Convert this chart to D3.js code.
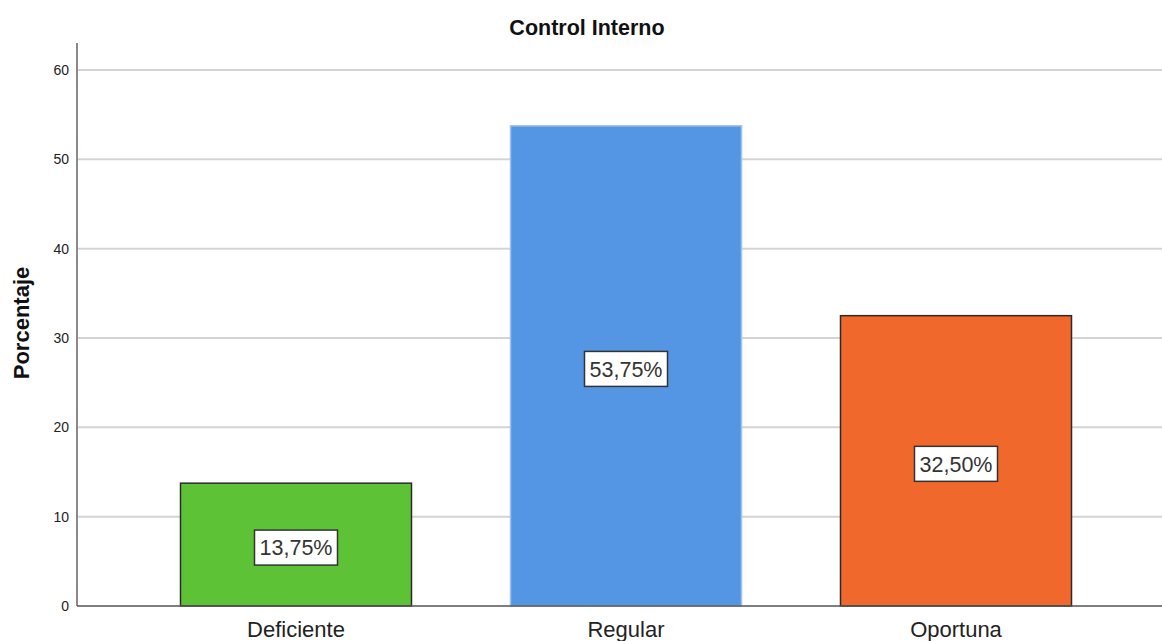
<!DOCTYPE html>
<html>
<head>
<meta charset="utf-8">
<script src="https://cdn.jsdelivr.net/npm/d3@7"></script>
<style>
  body { margin: 0; background: #fff; }
  svg { display: block; font-family: Arial, "Liberation Sans", sans-serif; }
</style>
</head>
<body>
<svg id="chart" width="1162" height="641"></svg>
<script>
const categories = ['Deficiente', 'Regular', 'Oportuna'];
const values = [13.75, 53.75, 32.50];
const barLabels = ['13,75%', '53,75%', '32,50%'];
const yTicks = [0, 10, 20, 30, 40, 50, 60];
const barColors = ['#5ec236', '#5596e4', '#f1682c'];
const barStrokes = ['#2b2b2b', '#9cc2ee', '#2b2b2b'];

const svg = d3.select('#chart');

const x = d3.scaleBand()
    .domain(categories)
    .range([131, 1121])
    .paddingInner(0.3)
    .paddingOuter(0.15);

const y = d3.scaleLinear()
    .domain([0, 60])
    .range([606, 70]);

// gridlines
svg.append('g')
    .selectAll('line')
    .data(yTicks.filter(d => d > 0))
    .enter()
    .append('line')
    .attr('x1', 78)
    .attr('x2', 1162)
    .attr('y1', d => y(d))
    .attr('y2', d => y(d))
    .attr('stroke', '#d4d4d4')
    .attr('stroke-width', 2);

// y axis
const yAxis = svg.append('g')
    .attr('transform', 'translate(78,0)')
    .call(d3.axisLeft(y).tickValues(yTicks).tickSize(0).tickPadding(9));
yAxis.select('.domain').remove();
yAxis.selectAll('text')
    .style('font-size', '14px')
    .style('fill', '#222');
svg.append('line')
    .attr('x1', 77).attr('x2', 77)
    .attr('y1', 43).attr('y2', 606)
    .attr('stroke', '#8a8a8a')
    .attr('stroke-width', 2);

// bars
svg.append('g')
    .selectAll('rect')
    .data(values)
    .enter()
    .append('rect')
    .attr('x', (d, i) => x(categories[i]))
    .attr('y', d => y(d))
    .attr('width', x.bandwidth())
    .attr('height', d => y(0) - y(d))
    .attr('fill', (d, i) => barColors[i])
    .attr('stroke', (d, i) => barStrokes[i])
    .attr('stroke-width', 1.5);

// baseline
svg.append('line')
    .attr('x1', 77).attr('x2', 1162)
    .attr('y1', 606).attr('y2', 606)
    .attr('stroke', '#555')
    .attr('stroke-width', 1.5);

// value labels
const labels = svg.append('g')
    .selectAll('g')
    .data(values)
    .enter()
    .append('g')
    .attr('transform', (d, i) => `translate(${x(categories[i]) + x.bandwidth() / 2},${(y(d) + y(0)) / 2 + 3})`);

labels.append('rect')
    .attr('x', -41.5)
    .attr('y', -17.5)
    .attr('width', 83)
    .attr('height', 35)
    .attr('fill', '#fff')
    .attr('stroke', '#333')
    .attr('stroke-width', 1.5);

labels.append('text')
    .attr('text-anchor', 'middle')
    .attr('dy', '0.36em')
    .style('font-size', '21.5px')
    .style('fill', '#333')
    .text((d, i) => barLabels[i]);

// x axis labels
svg.append('g')
    .selectAll('text')
    .data(categories)
    .enter()
    .append('text')
    .attr('x', d => x(d) + x.bandwidth() / 2)
    .attr('y', 637)
    .attr('text-anchor', 'middle')
    .style('font-size', '22px')
    .style('fill', '#222')
    .text(d => d);

// title
svg.append('text')
    .attr('x', 587)
    .attr('y', 35)
    .attr('text-anchor', 'middle')
    .style('font-size', '21.5px')
    .style('font-weight', '700')
    .style('fill', '#111')
    .text('Control Interno');

// y axis title
svg.append('text')
    .attr('transform', 'translate(29,323) rotate(-90)')
    .attr('text-anchor', 'middle')
    .style('font-size', '22px')
    .style('font-weight', '700')
    .style('fill', '#111')
    .text('Porcentaje');
</script>
</body>
</html>
